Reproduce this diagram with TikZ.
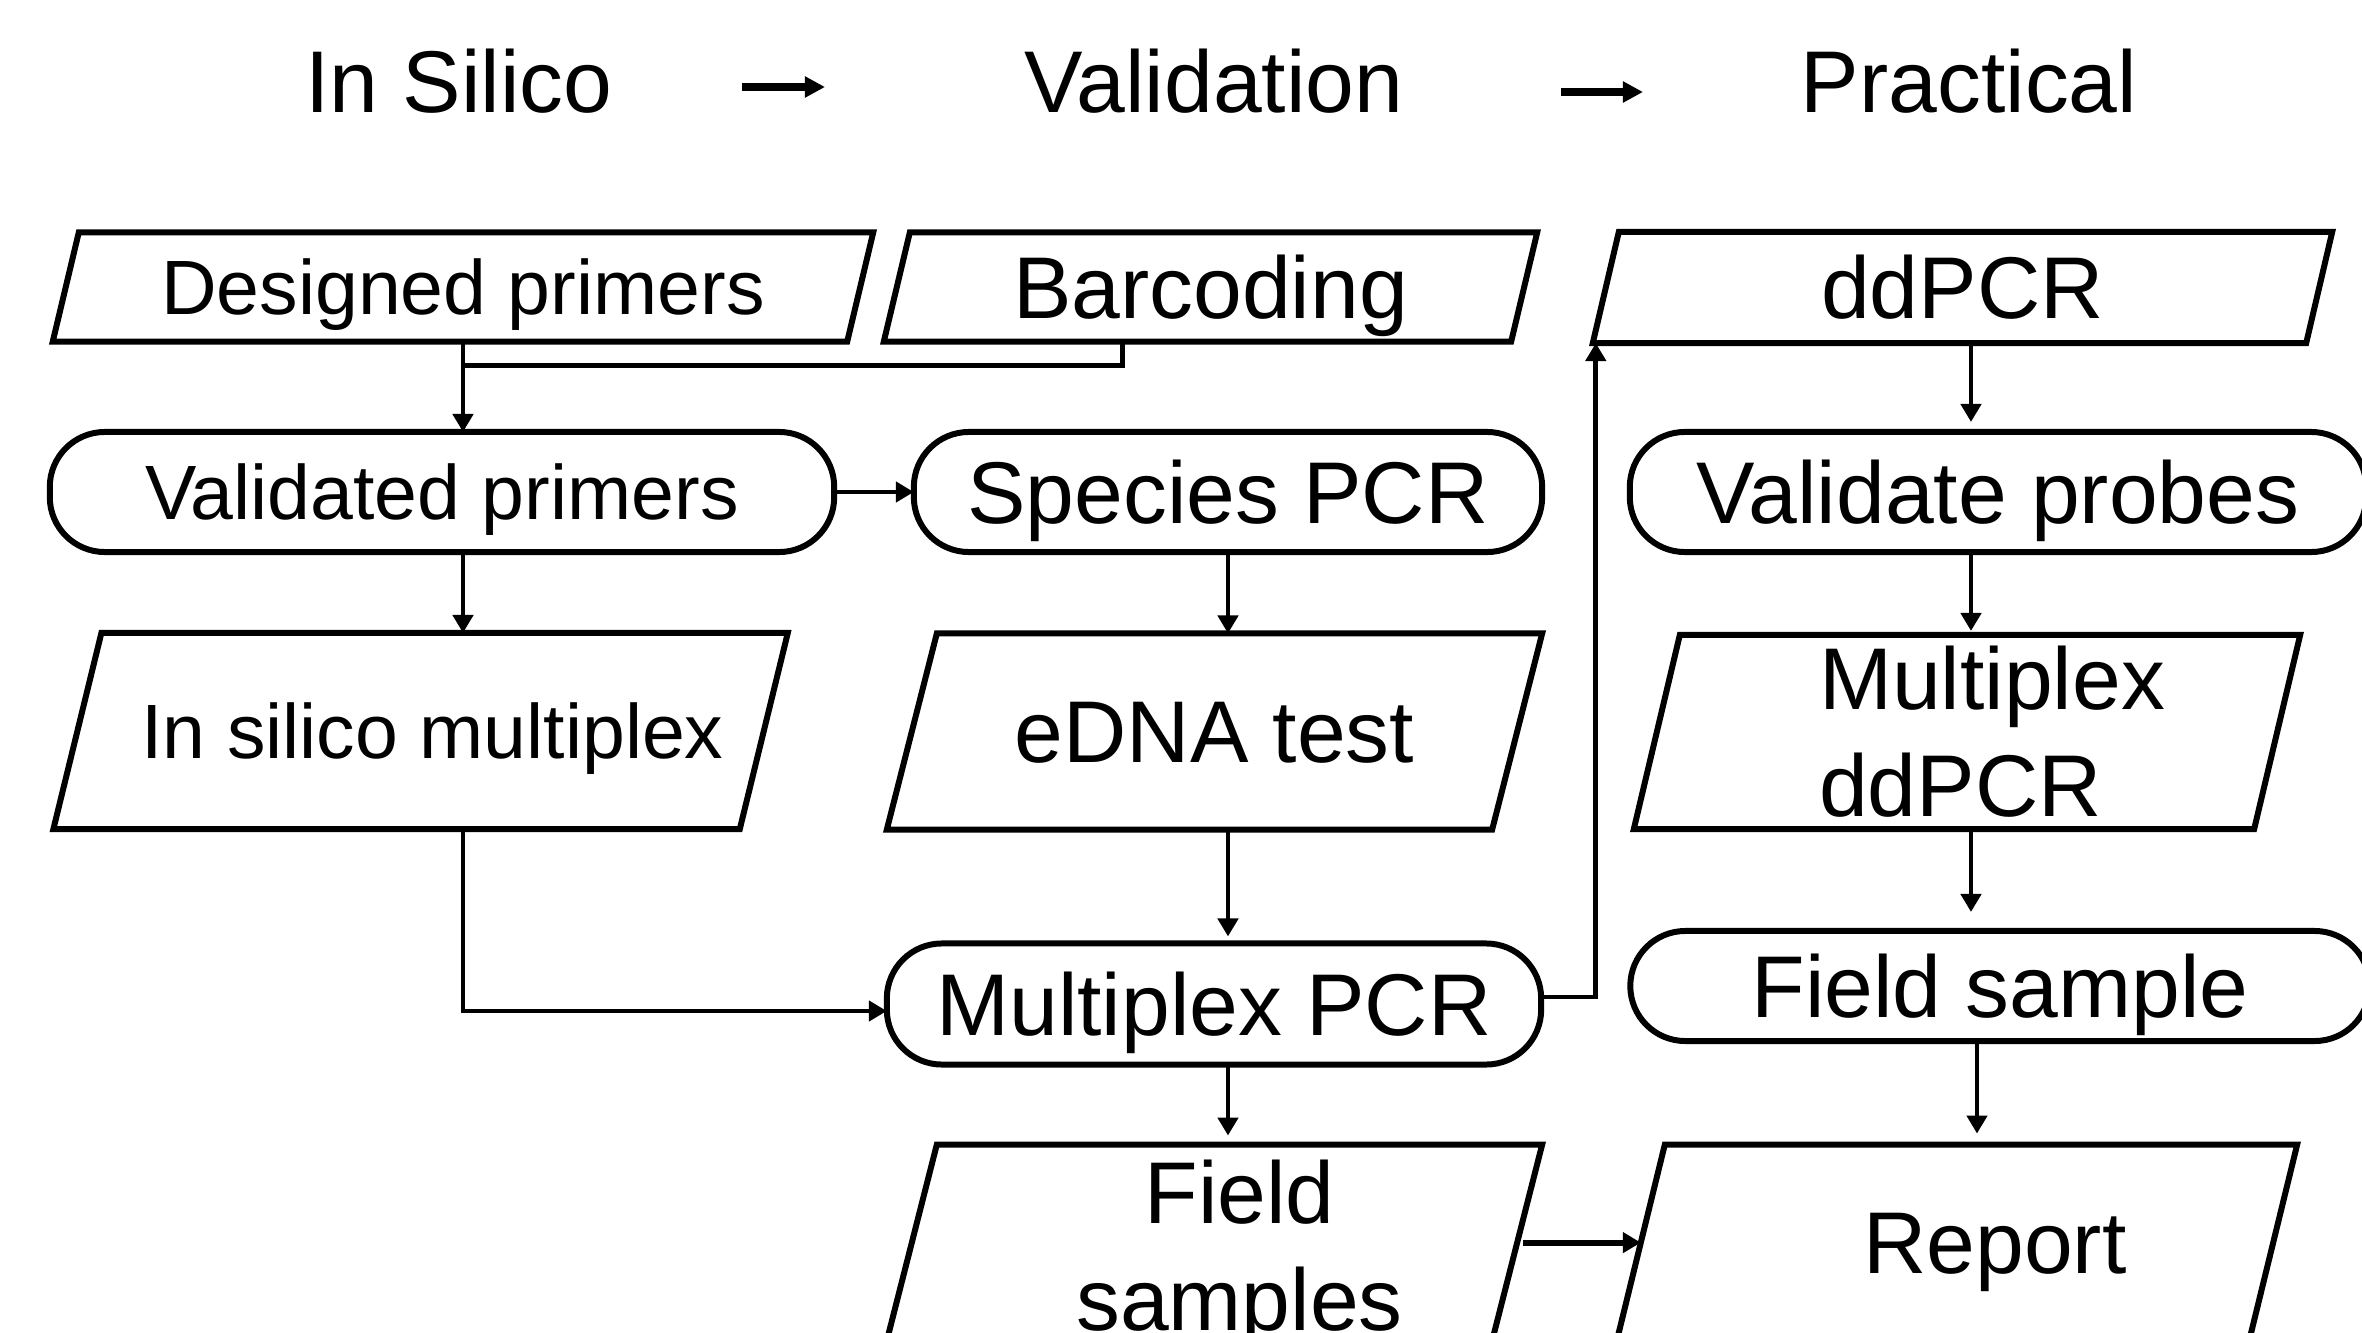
\documentclass[tikz,border=0pt]{standalone}
\usepackage{fontspec}
\setmainfont{Liberation Sans}
\usetikzlibrary{arrows.meta,calc}

\tikzset{
  bigtxt/.style={font=\fontsize{24.93pt}{30.4pt}\selectfont},
  smalltxt/.style={font=\fontsize{21.9pt}{26.3pt}\selectfont},
  capbig/.style={bigtxt, text height=17.85pt, text depth=0pt},
  capsmall/.style={smalltxt, text height=15.68pt, text depth=0pt},
  databox/.style={shape=rectangle, draw=none, inner sep=0pt, outer sep=0pt},
  stage/.style={shape=rectangle, draw, line width=1.7pt, rounded corners=0.55cm,
                inner sep=0pt, outer sep=0pt},
  outline/.style={line width=1.7pt, line join=miter},
  link/.style={line width=1.34pt},
  conn/.style={link, -{Triangle[length=0.18cm, width=0.2cm]}},
  headarrow/.style={line width=2pt, -{Triangle[length=0.2cm, width=0.2cm]}},
}

\begin{document}
\begin{tikzpicture}[x=0.01cm, y=-0.01cm]
\useasboundingbox (0,0) rectangle (2362,1333);
\clip (0,0) rectangle (2362,1333);

% stage headings
\node[bigtxt, anchor=base] (t1) at (459,112.7) {In Silico};
\node[bigtxt, anchor=base] (t2) at (1214,112.7) {Validation};
\node[bigtxt, anchor=base] (t3) at (1969,112.7) {Practical};
\coordinate (a1s) at (742,87);
\coordinate (a1e) at (825,87);
\coordinate (a2s) at (1561,92);
\coordinate (a2e) at (1643,92);
\draw[headarrow] (a1s) -- (a1e);
\draw[headarrow] (a2s) -- (a2e);

% first row
\node[databox, capsmall, minimum width=7.94cm, minimum height=1.09cm] (dp) at (463,287) {Designed primers};
\node[databox, capbig, minimum width=6.27cm, minimum height=1.09cm] (bc) at (1210.5,287) {Barcoding};
\node[databox, capbig, minimum width=7.13cm, minimum height=1.11cm] (dd) at (1962.5,287.5) {ddPCR};

% second row
\node[stage, capsmall, minimum width=7.84cm, minimum height=1.2cm] (vp) at (442,492) {Validated primers};
\node[stage, capbig, minimum width=6.28cm, minimum height=1.2cm] (sp) at (1228,492) {Species PCR};
\node[stage, capbig, minimum width=7.36cm, minimum height=1.2cm] (vpr) at (1998,492) {Validate probes};

% third row
\node[databox, minimum width=6.86cm, minimum height=1.96cm,
      label={[name=ismtext, capsmall, xshift=0.12cm]center:In silico multiplex}] (ism) at (420.6,731) {};
\node[databox, capbig, minimum width=6.05cm, minimum height=1.96cm] (ed) at (1214.5,731.5) {eDNA test};
\node[databox, minimum width=6.2cm, minimum height=1.94cm,
      label={[name=mdtext, bigtxt, align=left, xshift=0.25cm]center:Multiplex\\ddPCR}] (md) at (1967,732) {};

% fourth row
\node[stage, capbig, minimum width=6.54cm, minimum height=1.21cm] (mp) at (1214,1004) {Multiplex PCR};
\node[stage, capbig, minimum width=7.39cm, minimum height=1.1cm] (fsa) at (2000,986) {Field sample};

% fifth row
\node[databox, minimum width=6.05cm, minimum height=1.96cm,
      label={[name=fstext, bigtxt, align=center, xshift=0.25cm, yshift=-0.12cm]center:Field\\samples}] (fs) at (1214.5,1242.6) {};
\node[databox, minimum width=6.32cm, minimum height=1.96cm,
      label={[name=rptext, capbig, xshift=0.38cm]center:Report}] (rp) at (1957,1242.6) {};

% slanted data boxes
\foreach \n/\s in {dp/13, bc/13, dd/13, ism/24, ed/25, md/23, fs/25, rp/24}
  \draw[outline] ($(\n.north west)+(\s,0)$) -- ($(\n.north east)+(\s,0)$)
    -- ($(\n.south east)+(-\s,0)$) -- ($(\n.south west)+(-\s,0)$) -- cycle;

% in silico column
\draw[conn] (dp.south) -- (dp.south |- vp.north);
\coordinate (bcout) at ($(bc.south)+(-88,0)$);
\draw[link] (bcout) |- ($(dp.south)+(0,24)$);
\draw[conn] (vp.east) -- (sp.west);
\draw[conn] (dp.south |- vp.south) -- (dp.south |- ism.north);
\coordinate (ismout) at (dp.south |- ism.south);
\draw[conn] (ismout) |- ($(mp.west)+(0,7)$);

% validation column
\draw[conn] (sp.south) -- (sp.south |- ed.north);
\draw[conn, shorten >=0.07cm] (sp.south |- ed.south) -- (sp.south |- mp.north);
\draw[conn, shorten >=0.09cm] (sp.south |- mp.south) -- (sp.south |- fs.north);
\draw[conn] ($(mp.east)+(0,-7)$) -| ($(dd.south west)+(-10,0)$);

% practical column
\coordinate (ddout) at ($(dd.south)+(8.5,0)$);
\draw[conn, shorten >=0.1cm] (ddout) -- (ddout |- vpr.north);
\draw[conn, shorten >=0.04cm] (ddout |- vpr.south) -- (ddout |- md.north);
\draw[conn, shorten >=0.19cm] (ddout |- md.south) -- (ddout |- fsa.north);
\coordinate (fsaout) at ($(fsa.south)+(-23,0)$);
\draw[conn, shorten >=0.11cm] (fsaout) -- (fsaout |- rp.north);
\draw[conn, line width=1.7pt] ($(fs.east)+(6,0)$) -- (rp.west);
\end{tikzpicture}
\end{document}
